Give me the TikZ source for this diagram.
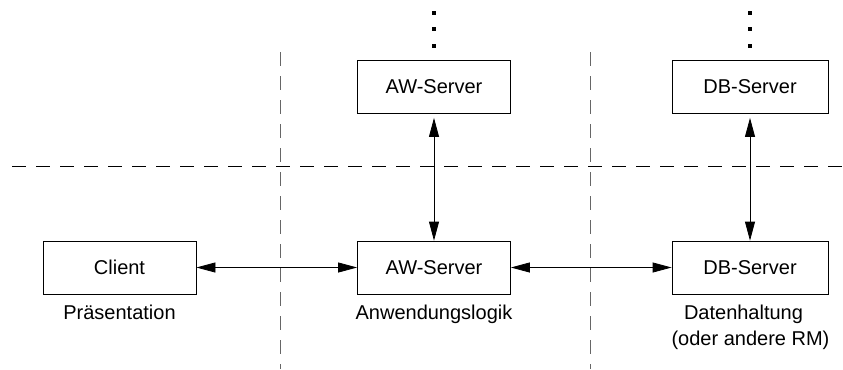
\documentclass[tikz,border=0pt]{standalone}
\usepackage{fontspec}
\setmainfont{Liberation Sans}
\usetikzlibrary{arrows.meta}
\tikzset{
  srvbox/.style={draw, line width=0.8bp, minimum width=153bp, minimum height=53bp, inner sep=0pt, font=\fontsize{20bp}{24bp}\selectfont},
  lbl/.style={inner sep=0pt, anchor=base, font=\fontsize{20bp}{24bp}\selectfont},
  conn/.style={line width=0.8bp, {Triangle[length=19bp,width=10bp]}-{Triangle[length=19bp,width=10bp]}},
  sep/.style={line width=0.9bp, dash pattern=on 14bp off 10bp},
  dotsq/.style={fill=black, minimum size=4.5bp, inner sep=0pt}
}
\begin{document}
\begin{tikzpicture}[x=1bp,y=-1bp]
\useasboundingbox (0,0) rectangle (843,369);
% separators
\draw[sep, black] (12,166) -- (843,166);
\draw[sep, black!60] (280,52) -- (280,369);
\draw[sep, black!60] (590,52) -- (590,369);
% boxes
\node[srvbox] (client) at (119.5,267.5) {Client};
\node[srvbox] (aw) at (434,267.5) {AW-Server};
\node[srvbox, minimum width=156bp] (db) at (750,267.5) {DB-Server};
\node[srvbox] (awtop) at (434,87) {AW-Server};
\node[srvbox, minimum width=156bp] (dbtop) at (750,87) {DB-Server};
% dots
\node[dotsq] (a1) at (434,13) {};
\node[dotsq] (a2) at (434,29) {};
\node[dotsq] (a3) at (434,46) {};
\node[dotsq] (d1) at (750,13) {};
\node[dotsq] (d2) at (750,29) {};
\node[dotsq] (d3) at (750,46) {};
% connectors
\draw[conn] (client.east) -- (aw.west);
\draw[conn] (aw.east) -- (db.west);
\draw[conn, shorten <=4bp] (awtop.south) -- (aw.north);
\draw[conn, shorten <=4bp] (dbtop.south) -- (db.north);
% labels
\node[lbl] (l1) at (119.5,319) {Präsentation};
\node[lbl] (l2) at (434,319) {Anwendungslogik};
\node[lbl] (l3) at (743.5,319) {Datenhaltung};
\node[lbl] (l4) at (750.5,345) {(oder andere RM)};
\end{tikzpicture}
\end{document}
